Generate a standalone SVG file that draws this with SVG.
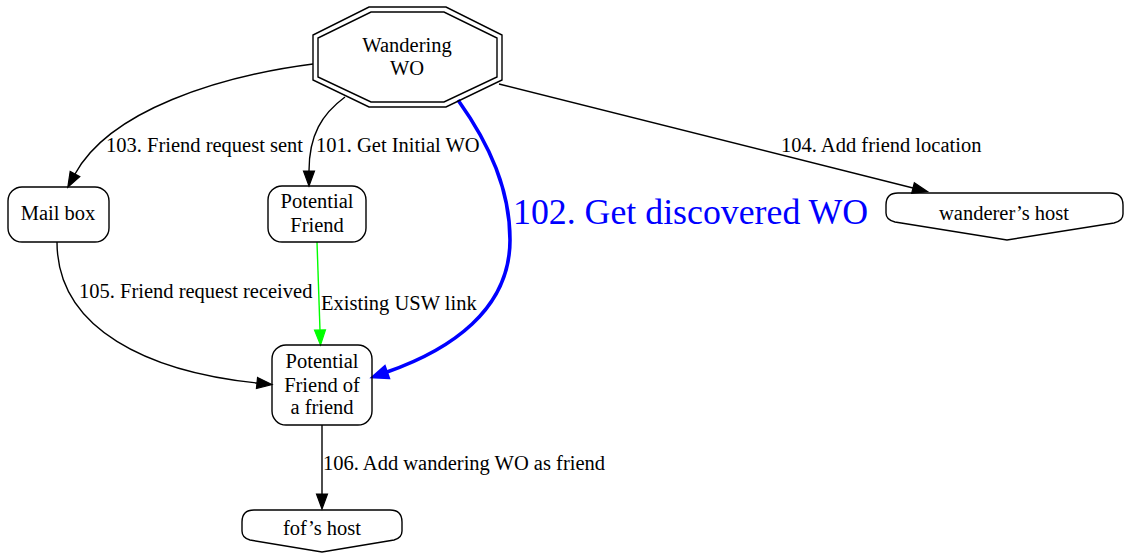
<svg xmlns="http://www.w3.org/2000/svg" width="1125" height="554" viewBox="0 0 1125 554">
<style>
  .shape { fill: none; stroke: #000; stroke-width: 1.4; }
  .t { font-family: "Liberation Serif", "Times New Roman", serif; font-size: 20.5px; fill: #000; text-anchor: middle; }
  .lbl { font-family: "Liberation Serif", "Times New Roman", serif; font-size: 20.5px; fill: #000; }
  .edge { fill: none; stroke: #000; stroke-width: 1.4; }
</style>
<defs>
  <marker id="ah" markerUnits="userSpaceOnUse" markerWidth="16" markerHeight="14" refX="0" refY="7" orient="auto" overflow="visible">
    <path d="M0,1.5 L15,7 L0,12.5 Z" fill="#000" stroke="#000" stroke-width="1.2"/>
  </marker>
  <marker id="ahg" markerUnits="userSpaceOnUse" markerWidth="16" markerHeight="14" refX="0" refY="7" orient="auto" overflow="visible">
    <path d="M0,1.5 L15,7 L0,12.5 Z" fill="#00ff00" stroke="#00ff00" stroke-width="1.2"/>
  </marker>
  <marker id="ahb" markerUnits="userSpaceOnUse" markerWidth="18" markerHeight="16" refX="0" refY="8" orient="auto" overflow="visible">
    <path d="M0,1.5 L16,8 L0,14.5 Z" fill="#0000ff" stroke="#0000ff" stroke-width="2"/>
  </marker>
</defs>

<g id="edges">
  <g id="e103">
    <path class="edge" d="M313,64 C220,76 110,110 75,174" marker-end="url(#ah)"/>
    <text class="lbl" x="106" y="152">103. Friend request sent</text>
  </g>
  <g id="e101">
    <path class="edge" d="M345,97 C322,114 309,135 309,171" marker-end="url(#ah)"/>
    <text class="lbl" x="316" y="152">101. Get Initial WO</text>
  </g>
  <g id="e104">
    <path class="edge" d="M499,84 L913,188" marker-end="url(#ah)"/>
    <text class="lbl" x="781" y="152">104. Add friend location</text>
  </g>
  <g id="e102">
    <path d="M458,100 C490,145 510,190 510,240 C510,310 450,350 387,372" fill="none" stroke="#0000ff" stroke-width="3.6" marker-end="url(#ahb)"/>
    <text x="513" y="224" font-family="'Liberation Serif', 'Times New Roman', serif" font-size="35.8px" fill="#0000ff">102. Get discovered WO</text>
  </g>
  <g id="e105">
    <path class="edge" d="M57,242 C57,330 150,372 257,383" marker-end="url(#ah)"/>
    <text class="lbl" x="79" y="298">105. Friend request received</text>
  </g>
  <g id="e_usw">
    <path d="M317,242 L320,330" fill="none" stroke="#00ff00" stroke-width="1.4" marker-end="url(#ahg)"/>
    <text class="lbl" x="321" y="310">Existing USW link</text>
  </g>
  <g id="e106">
    <path class="edge" d="M322,425 L322,494" marker-end="url(#ah)"/>
    <text class="lbl" x="323" y="470">106. Add wandering WO as friend</text>
  </g>
</g>

<g id="wandering_wo">
  <polygon class="shape" points="369,7 446,7 502,35 502,80 446,107 369,107 313,80 313,35"/>
  <polygon class="shape" points="371,12 444,12 497,38 497,77 444,102 371,102 318,77 318,38"/>
  <text class="t" x="407" y="52">Wandering</text>
  <text class="t" x="407" y="75">WO</text>
</g>

<g id="mail_box">
  <rect class="shape" x="8" y="187" width="101" height="55" rx="14" ry="14"/>
  <text class="t" x="58" y="220">Mail box</text>
</g>

<g id="potential_friend">
  <rect class="shape" x="268" y="186" width="98" height="56" rx="14" ry="14"/>
  <text class="t" x="317" y="208">Potential</text>
  <text class="t" x="317" y="232">Friend</text>
</g>

<g id="wanderers_host">
  <path class="shape" d="M898,193 L1110,193 Q1123,193 1123,205 L1123,214 Q1123,221 1114,223 L1007,240 L895,222 Q886,220 886,213 L886,205 Q886,193 898,193 Z"/>
  <text class="t" x="1004" y="220">wanderer’s host</text>
</g>

<g id="pfof">
  <rect class="shape" x="272" y="345" width="100" height="80" rx="14" ry="14"/>
  <text class="t" x="322" y="368">Potential</text>
  <text class="t" x="322" y="392">Friend of</text>
  <text class="t" x="322" y="414">a friend</text>
</g>

<g id="fofs_host">
  <path class="shape" d="M254,510 L390,510 Q402,510 402,522 L402,531 Q402,538 394,540 L322,552 L250,540 Q242,538 242,531 L242,522 Q242,510 254,510 Z"/>
  <text class="t" x="322" y="535">fof’s host</text>
</g>
</svg>
